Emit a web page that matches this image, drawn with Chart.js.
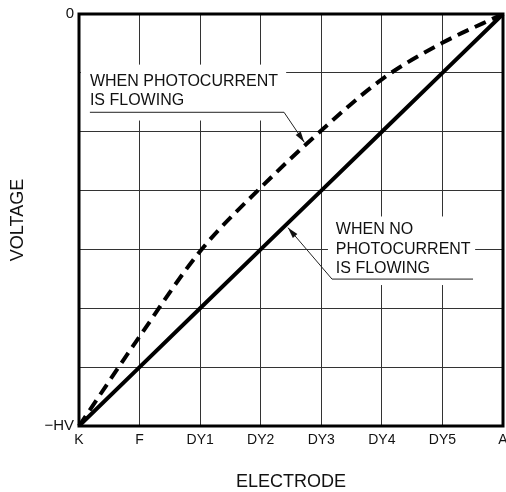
<!DOCTYPE html>
<html>
<head>
<meta charset="utf-8">
<script src="https://cdn.jsdelivr.net/npm/chart.js@4"></script>
<style>
  html, body { margin: 0; padding: 0; background: #fff; }
</style>
</head>
<body>
<canvas id="voltageChart" width="506" height="492"></canvas>
<script>
const electrodes = ['K', 'F', 'DY1', 'DY2', 'DY3', 'DY4', 'DY5', 'A'];
const voltageNoCurrent = [0, 1, 2, 3, 4, 5, 6, 7];
const voltageWithCurrent = [0, 1.52, 2.97, 4.05, 5.02, 5.89, 6.51, 7];
const voltageTickLabels = ['\u2212HV', '', '', '', '', '', '', '0'];

/* callouts, placed in axis units (x = electrode index, y = grid step) */
const callouts = [
    {
        lines: ['WHEN PHOTOCURRENT', 'IS FLOWING'],
        box: [0.03, 6.14, 3.42, 5.19],
        textX: 0.18,
        baselines: [5.785, 5.45],
        rule: [0.18, 3.385, 5.33],
        leaderFrom: 'right',
        tip: [3.72, 4.82]
    },
    {
        lines: ['WHEN NO', 'PHOTOCURRENT', 'IS FLOWING'],
        box: [4.11, 3.56, 6.54, 2.395],
        textX: 4.24,
        baselines: [3.255, 2.918, 2.597],
        rule: [4.177, 6.505, 2.496],
        leaderFrom: 'left',
        tip: [3.45, 3.37]
    }
];

const FONT = '"Liberation Sans", Arial, Helvetica, sans-serif';
Chart.defaults.font.family = FONT;
Chart.defaults.color = '#111';

const calloutPlugin = {
    id: 'callouts',
    beforeDatasetsDraw(chart) {
        const ctx = chart.ctx;
        const px = v => chart.scales.x.getPixelForValue(v);
        const py = v => chart.scales.y.getPixelForValue(v);

        ctx.save();
        callouts.forEach(c => {
            const [x0, y0, x1, y1] = c.box;
            ctx.fillStyle = '#fff';
            ctx.fillRect(px(x0), py(y0), px(x1) - px(x0), py(y1) - py(y0));

            ctx.fillStyle = '#111';
            ctx.font = '16px ' + FONT;
            ctx.textAlign = 'left';
            ctx.textBaseline = 'alphabetic';
            c.lines.forEach((t, i) => ctx.fillText(t, px(c.textX), py(c.baselines[i])));

            // rule under the text and the leader running to the curve
            const [rx0, rx1, ry] = c.rule;
            const sx = c.leaderFrom === 'right' ? px(rx1) : px(rx0);
            const sy = py(ry);
            const tx = px(c.tip[0]);
            const ty = py(c.tip[1]);
            ctx.strokeStyle = '#222';
            ctx.lineWidth = 1;
            ctx.beginPath();
            ctx.moveTo(px(rx0), sy);
            ctx.lineTo(px(rx1), sy);
            ctx.moveTo(sx, sy);
            ctx.lineTo(tx, ty);
            ctx.stroke();

            // arrow head
            const a = Math.atan2(ty - sy, tx - sx);
            const len = 11, half = 3;
            ctx.beginPath();
            ctx.moveTo(tx, ty);
            ctx.lineTo(tx - len * Math.cos(a) + half * Math.sin(a), ty - len * Math.sin(a) - half * Math.cos(a));
            ctx.lineTo(tx - len * Math.cos(a) - half * Math.sin(a), ty - len * Math.sin(a) + half * Math.cos(a));
            ctx.closePath();
            ctx.fill();
        });
        ctx.restore();
    },
    afterDraw(chart) {
        const { left, top, right, bottom } = chart.chartArea;
        const ctx = chart.ctx;
        ctx.save();
        ctx.strokeStyle = '#000';
        ctx.lineWidth = 3;
        ctx.strokeRect(left, top, right - left, bottom - top);
        ctx.restore();
    }
};

new Chart(document.getElementById('voltageChart'), {
    type: 'line',
    data: {
        labels: electrodes,
        datasets: [
            {
                label: 'When photocurrent is flowing',
                data: voltageWithCurrent,
                borderColor: '#000',
                borderWidth: 4,
                borderDash: [12, 7],
                cubicInterpolationMode: 'monotone',
                pointRadius: 0,
                fill: false
            },
            {
                label: 'When no photocurrent is flowing',
                data: voltageNoCurrent,
                borderColor: '#000',
                borderWidth: 4,
                tension: 0,
                pointRadius: 0,
                fill: false
            }
        ]
    },
    options: {
        responsive: false,
        animation: false,
        layout: { padding: { top: 11, right: 3, left: 0, bottom: 0 } },
        plugins: {
            legend: { display: false },
            tooltip: { enabled: false }
        },
        scales: {
            x: {
                type: 'category',
                grid: { color: '#333', lineWidth: 1, drawTicks: false },
                border: { display: false },
                ticks: { font: { size: 14 }, padding: 6, maxRotation: 0, autoSkip: false },
                title: {
                    display: true,
                    text: 'ELECTRODE',
                    font: { size: 18, lineHeight: 1 },
                    padding: { top: 0, bottom: 1 }
                },
                afterFit(scale) {
                    scale.height = 66;
                    scale.paddingLeft = 0;
                    scale.paddingRight = 0;
                }
            },
            y: {
                min: 0,
                max: 7,
                grid: { color: '#333', lineWidth: 1, drawTicks: false },
                border: { display: false },
                ticks: {
                    stepSize: 1,
                    autoSkip: false,
                    font: { size: 15 },
                    padding: 5,
                    callback: v => voltageTickLabels[v]
                },
                title: {
                    display: true,
                    text: 'VOLTAGE',
                    font: { size: 18, lineHeight: 1 },
                    padding: { top: 9, bottom: 0 }
                },
                afterFit(scale) {
                    scale.width = 79;
                }
            }
        }
    },
    plugins: [calloutPlugin]
});
</script>
</body>
</html>
